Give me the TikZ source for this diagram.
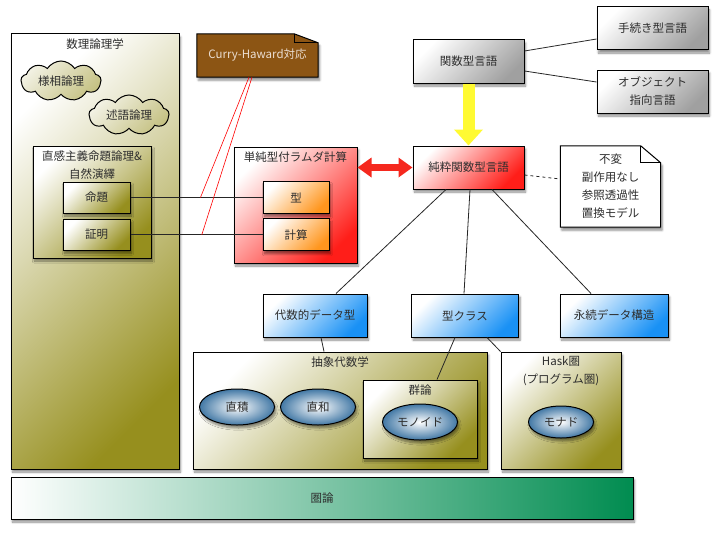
\documentclass[tikz,border=0pt]{standalone}
\usepackage{fontspec}
\setmainfont{Noto Sans CJK JP}
\usetikzlibrary{shapes.geometric,shapes.symbols,shadows.blur,arrows.meta,backgrounds}

\definecolor{olivedark}{RGB}{150,143,30}
\definecolor{lambdared}{RGB}{255,30,25}
\definecolor{typeorange}{RGB}{255,150,30}
\definecolor{langgray}{RGB}{160,160,160}
\definecolor{datablue}{RGB}{25,145,245}
\definecolor{ovalblue}{RGB}{45,105,155}
\definecolor{catgreen}{RGB}{0,140,80}
\definecolor{notebrown}{RGB}{140,85,20}
\definecolor{notetext}{RGB}{235,222,210}
\definecolor{textgray}{RGB}{45,45,45}
\definecolor{arrowyellow}{RGB}{255,250,50}
\definecolor{arrowred}{RGB}{245,40,30}

\tikzset{
  my shadow/.style={blur shadow={shadow xshift=1.5pt, shadow yshift=-3pt,
      shadow opacity=45, shadow blur steps=6}},
  gradbox/.style={draw=black, line width=1pt, my shadow,
      top color=white, bottom color=#1, shading angle=45, inner sep=0pt}
  }

\begin{document}
\begin{tikzpicture}[x=1pt, y=-1pt,
    nodes={text=textgray, font=\fontsize{11.5}{18}\selectfont},
    field/.style={gradbox=olivedark},
    fieldtitle/.style={anchor=north, yshift=-3pt, align=center, inner sep=2pt},
    topic/.style={gradbox=olivedark, minimum width=67pt, minimum height=31pt},
    lambdabox/.style={gradbox=lambdared},
    termbox/.style={gradbox=typeorange, minimum width=66pt, minimum height=32pt},
    langbox/.style={gradbox=langgray, minimum width=111pt, minimum height=43pt, align=center},
    purebox/.style={gradbox=lambdared, minimum width=111pt, minimum height=43pt},
    databox/.style={gradbox=datablue, minimum height=43pt},
    concept/.style={ellipse, draw=black, line width=1pt, my shadow,
        inner color=white, outer color=ovalblue!90, inner sep=0pt,
        minimum width=75pt, minimum height=36pt},
    bubble/.style={cloud, cloud puffs=9, cloud puff arc=115, aspect=2.2,
        draw=black, line width=1pt, top color=olivedark!12, bottom color=olivedark!55,
        shading angle=45, minimum width=80pt, minimum height=38pt, inner sep=0pt},
    basebox/.style={draw=black, line width=1pt, my shadow,
        left color=white, right color=catgreen, inner sep=0pt},
    link/.style={draw=black!85, line width=.8pt},
]
    \useasboundingbox (0,0) rectangle (719,535);

    % Mathematical logic
    \node[field, minimum width=168pt, minimum height=435pt] (logic) at (95,251.5) {};
    \node[fieldtitle] (logictitle) at (logic.north) {数理論理学};
    \node[bubble] (modal) at (61,81) {様相論理};
    \node[bubble] (pred) at (129,115) {述語論理};
    \node[field, minimum width=118pt, minimum height=112pt] (intu) at (92,202) {};
    \node[fieldtitle] (intutitle) at (intu.north) {直感主義命題論理\&\\自然演繹};
    \node[topic] (prop) at (96.5,197.5) {命題};
    \node[topic] (proof) at (96.5,234.8) {証明};

    % Simply typed lambda calculus
    \node[lambdabox, minimum width=123pt, minimum height=116pt] (lambda) at (295.5,205) {};
    \node[fieldtitle] (lambdatitle) at (lambda.north) {単純型付ラムダ計算};
    \node[termbox] (type) at (296,197.5) {型};
    \node[termbox] (calc) at (296,234.8) {計算};

    % Curry-Howard note
    \node[minimum width=121pt, minimum height=43pt, text=notetext] (curry) at (257.5,55.5) {Curry-Haward対応};

    % Languages
    \node[langbox] (func) at (468.5,61.5) {関数型言語};
    \node[langbox] (proc) at (652.5,28.5) {手続き型言語};
    \node[langbox] (oop) at (652.5,91.5) {オブジェクト\\指向言語};
    \node[purebox] (pure) at (468.5,167.5) {純粋関数型言語};
    \node[minimum width=100pt, minimum height=81pt, align=center] (props) at (610.5,186.5) {不変\\副作用なし\\参照透過性\\置換モデル};

    % Haskell features
    \node[databox, minimum width=104pt] (adt) at (315,315.5) {代数的データ型};
    \node[databox, minimum width=107pt] (tclass) at (465,315.5) {型クラス};
    \node[databox, minimum width=108pt] (pds) at (614,315.5) {永続データ構造};

    % Abstract algebra
    \node[field, minimum width=294pt, minimum height=117pt] (algebra) at (340,410.5) {};
    \node[fieldtitle] (algebratitle) at (algebra.north) {抽象代数学};
    \node[concept] (product) at (237,407) {直積};
    \node[concept] (sum) at (318,407) {直和};
    \node[field, minimum width=114pt, minimum height=78pt] (group) at (420,419) {};
    \node[fieldtitle] (grouptitle) at (group.north) {群論};
    \node[concept] (monoid) at (420,422) {モノイド};

    % Hask category
    \node[field, minimum width=120pt, minimum height=117pt] (hask) at (561,410.5) {};
    \node[fieldtitle] (hasktitle) at (hask.north) {Hask圏\\(プログラム圏)};
    \node[concept, minimum width=65pt, minimum height=32pt] (monad) at (561,422) {モナド};

    % Category theory
    \node[basebox, minimum width=622pt, minimum height=42pt] (cat) at (322,498) {圏論};

    % Notes with folded corners
    \begin{scope}[on background layer]
      \filldraw[fill=notebrown, line width=1pt, my shadow] (curry.south west) -- (curry.north west)
        -- ([xshift=-24pt]curry.north east) -- ([yshift=-9pt]curry.north east)
        -- (curry.south east) -- cycle;
      \draw[line width=1pt] ([xshift=-24pt]curry.north east) -- ([xshift=-24pt,yshift=-9pt]curry.north east)
        -- ([yshift=-9pt]curry.north east);
      \filldraw[fill=white, line width=1pt, my shadow] (props.south west) -- (props.north west)
        -- ([xshift=-20pt]props.north east) -- ([yshift=-17pt]props.north east)
        -- (props.south east) -- cycle;
      \draw[line width=1pt] ([xshift=-20pt]props.north east) -- ([xshift=-20pt,yshift=-17pt]props.north east)
        -- ([yshift=-17pt]props.north east);
    \end{scope}

    % Connectors
    \draw[link] (prop) -- coordinate[pos=.53] (propmid) (type);
    \draw[link] (proof) -- coordinate[pos=.54] (proofmid) (calc);
    \draw[red, line width=.6pt] ([xshift=-8.5pt]curry.south) -- (propmid);
    \draw[red, line width=.6pt] ([xshift=-5.5pt]curry.south) -- (proofmid);
    \draw[link] ([yshift=10.5pt]func.east) -- ([yshift=-10.5pt]proc.west);
    \draw[link] ([yshift=-9.5pt]func.east) -- ([yshift=9.5pt]oop.west);
    \draw[line width=12pt, arrowyellow, -{Triangle[width=28pt,length=16pt]}] (func.south) -- (pure.north);
    \draw[line width=7pt, arrowred, {Triangle[width=19pt,length=14pt]}-{Triangle[width=19pt,length=14pt]}]
        (lambda.east |- pure.west) -- (pure.west);
    \draw[link, dashed] ([yshift=-7.5pt]pure.east) -- ([yshift=7.5pt]props.west);
    \draw[link] ([xshift=-22.5pt]pure.south) -- ([xshift=21pt]adt.north);
    \draw[link] ([xshift=1.5pt]pure.south) -- ([xshift=-1pt]tclass.north);
    \draw[link] ([xshift=23.5pt]pure.south) -- ([xshift=-23pt]pds.north);
    \draw[link] ([xshift=6pt]adt.south) -- ([xshift=-16pt]algebra.north);
    \draw[link] ([xshift=-10pt]tclass.south) -- ([xshift=17pt]group.north);
    \draw[link] ([xshift=22pt]tclass.south) -- (hask.north west);
\end{tikzpicture}
\end{document}
